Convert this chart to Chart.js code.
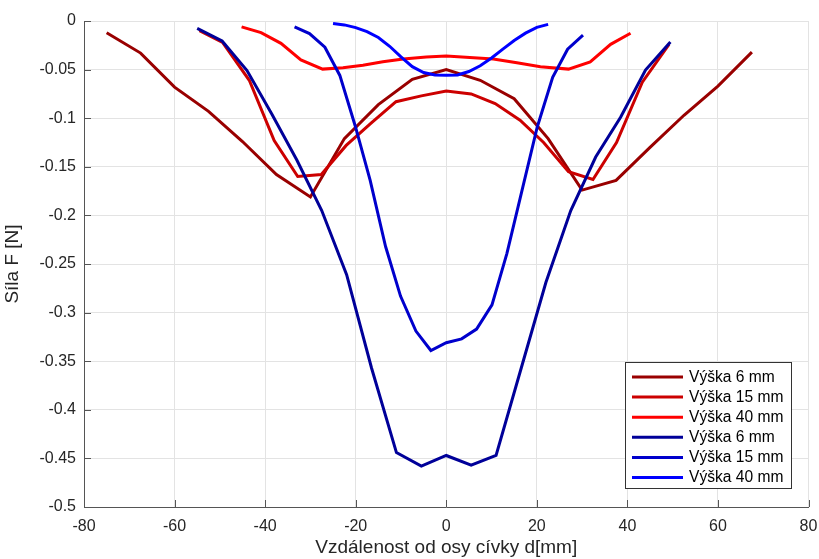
<!DOCTYPE html>
<html>
<head>
<meta charset="utf-8">
<script src="https://cdn.jsdelivr.net/npm/chart.js@4"></script>
<style>
  html, body { margin:0; padding:0; background:#fff; }
  #wrap { width:819px; height:559px; }
</style>
</head>
<body>
<div id="wrap"><canvas id="graf"></canvas></div>
<script>
/* ── DATA ── */
const LABELS = ['Výška 6 mm', 'Výška 15 mm', 'Výška 40 mm', 'Výška 6 mm', 'Výška 15 mm', 'Výška 40 mm'];
const COLORS = ['#990000', '#cc0000', '#ff0000', '#000099', '#0000cc', '#0000ff'];

const X_TICKS = [-80, -60, -40, -20, 0, 20, 40, 60, 80];
const Y_TICKS = [0, -0.05, -0.1, -0.15, -0.2, -0.25, -0.3, -0.35, -0.4, -0.45, -0.5];

// červené – první sada
const xR6  = [-75, -67.5, -60, -52.5, -45, -37.5, -30, -22.5, -15, -7.5, 0, 7.5, 15, 22.5, 30, 37.5, 45, 52.5, 60, 67.5];
const yR6  = [-0.012, -0.033, -0.068, -0.093, -0.124, -0.158, -0.181, -0.121, -0.086, -0.060, -0.050, -0.061, -0.080, -0.121, -0.174, -0.164, -0.130, -0.097, -0.067, -0.032];

const xR15 = [-54.5, -49.4, -43.5, -38, -32.8, -27.6, -22.1, -16.6, -11.1, -5.5, 0, 5.5, 10.8, 16.3, 21.5, 27, 32.4, 37.6, 43.3, 49.2];
const yR15 = [-0.010, -0.022, -0.061, -0.123, -0.160, -0.158, -0.128, -0.105, -0.083, -0.077, -0.072, -0.075, -0.085, -0.102, -0.125, -0.155, -0.163, -0.125, -0.063, -0.024];

const xR40 = [-45.2, -40.9, -36.5, -32.1, -27.3, -22.8, -18.4, -14, -9.5, -4.4, 0, 5.2, 10.4, 15.6, 20.8, 27, 31.8, 36.3, 40.7];
const yR40 = [-0.006, -0.012, -0.023, -0.040, -0.0495, -0.048, -0.0455, -0.042, -0.039, -0.037, -0.036, -0.0375, -0.039, -0.043, -0.047, -0.0495, -0.042, -0.024, -0.0126];

// modré – druhá sada
const xB6  = [-55, -49.5, -44, -38.5, -33, -27.5, -22, -16.5, -11, -5.5, 0, 5.5, 11, 16.5, 22, 27.5, 33, 38.5, 44, 49.5];
const yB6  = [-0.0075, -0.0205, -0.051, -0.096, -0.143, -0.195, -0.261, -0.357, -0.444, -0.458, -0.447, -0.457, -0.447, -0.358, -0.269, -0.195, -0.140, -0.099, -0.0505, -0.0215];

const xB15 = [-33.5, -30.2, -26.8, -23.5, -20.1, -16.8, -13.4, -10.1, -6.7, -3.4, 0, 3.4, 6.7, 10.1, 13.4, 16.8, 20.1, 23.5, 26.8, 30.2];
const yB15 = [-0.006, -0.013, -0.027, -0.056, -0.108, -0.164, -0.232, -0.283, -0.319, -0.339, -0.331, -0.327, -0.317, -0.292, -0.239, -0.173, -0.109, -0.058, -0.029, -0.0145];

const xB40 = [-25, -22.5, -20, -17.5, -15, -12.5, -10, -7.5, -5, -2.5, 0, 2.5, 5, 7.5, 10, 12.5, 15, 17.5, 20, 22.5];
const yB40 = [-0.0025, -0.004, -0.0068, -0.011, -0.017, -0.026, -0.037, -0.047, -0.053, -0.0555, -0.0558, -0.0555, -0.052, -0.046, -0.038, -0.029, -0.020, -0.0125, -0.0065, -0.0035];

const SERIES = [[xR6, yR6], [xR15, yR15], [xR40, yR40], [xB6, yB6], [xB15, yB15], [xB40, yB40]];

const FONT = 'Liberation Sans, Arial, Helvetica, sans-serif';

/* ── PLUGIN: vnitřní tiky + legenda ── */
const matlabLook = {
  id: 'matlabLook',
  afterDraw(chart) {
    const ctx = chart.ctx;
    const { left, right, top, bottom } = chart.chartArea;
    const sx = chart.scales.x, sy = chart.scales.y;

    ctx.save();
    ctx.strokeStyle = '#555';
    ctx.lineWidth = 1;
    ctx.beginPath();
    X_TICKS.forEach(v => {
      const px = Math.round(sx.getPixelForValue(v)) + 0.5;
      ctx.moveTo(px, bottom); ctx.lineTo(px, bottom - 7);
    });
    Y_TICKS.forEach(v => {
      const py = Math.round(sy.getPixelForValue(v)) + 0.5;
      ctx.moveTo(left, py); ctx.lineTo(left + 7, py);
    });
    ctx.stroke();

    // legenda
    const bx = 625.5, by = 362.5, bw = 166, bh = 126;
    ctx.fillStyle = '#fff';
    ctx.fillRect(bx, by, bw, bh);
    ctx.strokeStyle = '#333';
    ctx.strokeRect(bx, by, bw, bh);
    ctx.font = '15.6px ' + FONT;
    ctx.textBaseline = 'middle';
    ctx.textAlign = 'left';
    LABELS.forEach((l, i) => {
      const y = 377 + i * 20.1;
      ctx.strokeStyle = COLORS[i];
      ctx.lineWidth = 3;
      ctx.beginPath();
      ctx.moveTo(632, y); ctx.lineTo(683, y);
      ctx.stroke();
      ctx.fillStyle = '#000';
      ctx.fillText(l, 689, y + 0.5);
    });
    ctx.restore();
  }
};

const datasets = SERIES.map(([xs, ys], i) => ({
  label: LABELS[i],
  data: xs.map((x, k) => ({ x, y: ys[k] })),
  borderColor: COLORS[i],
  backgroundColor: COLORS[i],
  borderWidth: 3,
  pointRadius: 0,
  tension: 0,
  fill: false,
  order: 5 - i
}));

new Chart(document.getElementById('graf').getContext('2d'), {
  type: 'line',
  data: { datasets },
  options: {
    responsive: true, maintainAspectRatio: false, animation: false,
    layout: { padding: { left: 0, right: 10.5, top: 21, bottom: 0 } },
    plugins: { legend: { display: false }, tooltip: { enabled: false } },
    scales: {
      x: {
        type: 'linear', min: -80, max: 80,
        afterBuildTicks: s => { s.ticks = X_TICKS.map(v => ({ value: v })); },
        afterFit: s => { s.height = 52; s.paddingLeft = 0; s.paddingRight = 0; },
        grid: { color: '#e3e3e3', drawTicks: false },
        border: { display: true, color: '#555', width: 1 },
        ticks: { color: '#262626', padding: 10, font: { family: FONT, size: 16 }, maxRotation: 0, callback: v => String(v) },
        title: { display: true, text: 'Vzdálenost od osy cívky d[mm]', color: '#262626', font: { family: FONT, size: 19 }, padding: { top: 0, bottom: 0 } }
      },
      y: {
        type: 'linear', min: -0.5, max: 0,
        afterBuildTicks: s => { s.ticks = Y_TICKS.map(v => ({ value: v })); },
        afterFit: s => { s.width = 84; s.paddingTop = 0; s.paddingBottom = 0; },
        grid: { color: '#e3e3e3', drawTicks: false },
        border: { display: true, color: '#555', width: 1 },
        ticks: { color: '#262626', padding: 8, font: { family: FONT, size: 16 }, callback: v => String(Math.round(v * 100) / 100) },
        title: { display: true, text: 'Síla F [N]', color: '#262626', font: { family: FONT, size: 19 }, padding: { top: 1, bottom: 0 } }
      }
    }
  },
  plugins: [matlabLook]
});
</script>
</body>
</html>
